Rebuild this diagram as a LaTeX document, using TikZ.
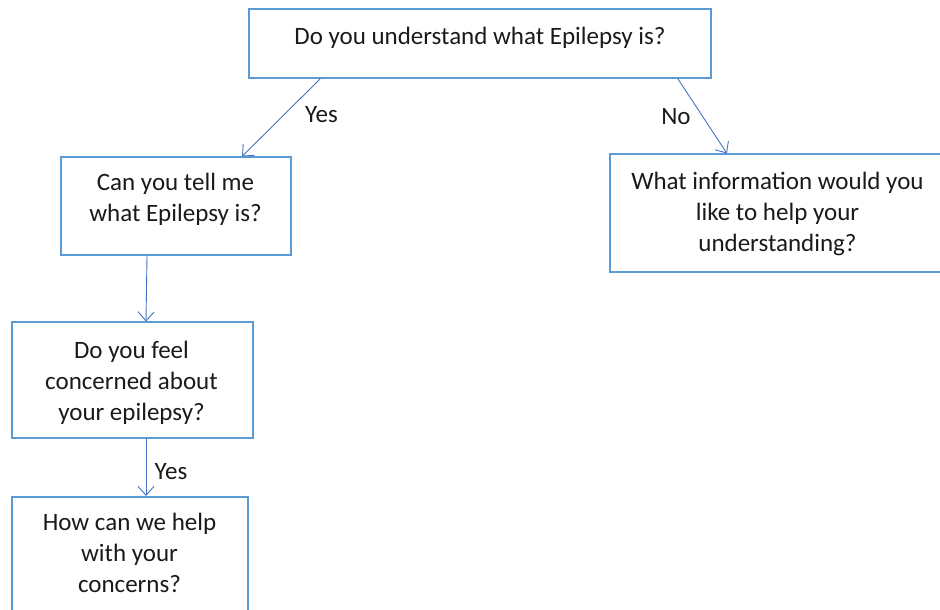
\documentclass[tikz,border=0pt]{standalone}
\usepackage{fontspec}
\setmainfont{Carlito}
\usetikzlibrary{arrows.meta}
\definecolor{boxblue}{HTML}{5B9BD5}
\definecolor{arrblue}{HTML}{4472C4}
\definecolor{txt}{HTML}{1A1A1A}
\begin{document}
\begin{tikzpicture}[x=1pt,y=-1pt,
  qbox/.style={draw=boxblue,line width=1.8pt,inner sep=0pt},
  conn/.style={draw=arrblue,line width=0.9pt,-{Straight Barb[length=9pt,width=16pt,line width=0.9pt]}},
  lbl/.style={text=txt,font=\fontsize{25}{31}\selectfont,inner sep=0pt,align=center,anchor=base}]
\useasboundingbox (0,0) rectangle (940,610);
\begin{scope}
\clip (0,0) rectangle (940,610);
\node[qbox,minimum width=462pt,minimum height=69pt] (q1) at (480,43.5) {};
\node[qbox,minimum width=230pt,minimum height=98pt] (q2) at (176,206) {};
\node[qbox,minimum width=360pt,minimum height=118pt] (q3) at (790,213) {};
\node[qbox,minimum width=241pt,minimum height=116pt] (q4) at (132.5,380) {};
\node[qbox,minimum width=236pt,minimum height=140pt,anchor=north] (q5) at (130,496) {};
\end{scope}
\node[lbl] (t1) at (480,45) {Do you understand what Epilepsy is?};
\node[lbl] (t2) at (175.5,221) {Can you tell me\\what Epilepsy is?};
\node[lbl] (t3) at (777.5,251) {What information would you\\like to help your\\understanding?};
\node[lbl] (t4) at (131.5,420) {Do you feel\\concerned about\\your epilepsy?};
\node[lbl] (t5) at (129.5,592) {How can we help\\with your\\concerns?};
\coordinate (a1s) at (320,79);
\coordinate (a2s) at (678,79);
\draw[conn] (a1s) -- (242,156.5) coordinate (a1e);
\draw[conn] (a2s) -- (727,153.5) coordinate (a2e);
\draw[conn] (q2.south -| 147,0) -- (146,321.5) coordinate (a3e);
\draw[conn] (q4.south -| 146,0) -- (q5.north -| 146,0);
\node[lbl] (y1) at (321.5,122) {Yes};
\node[lbl] (n1) at (676,124) {No};
\node[lbl] (y2) at (171,479) {Yes};
\end{tikzpicture}
\end{document}
